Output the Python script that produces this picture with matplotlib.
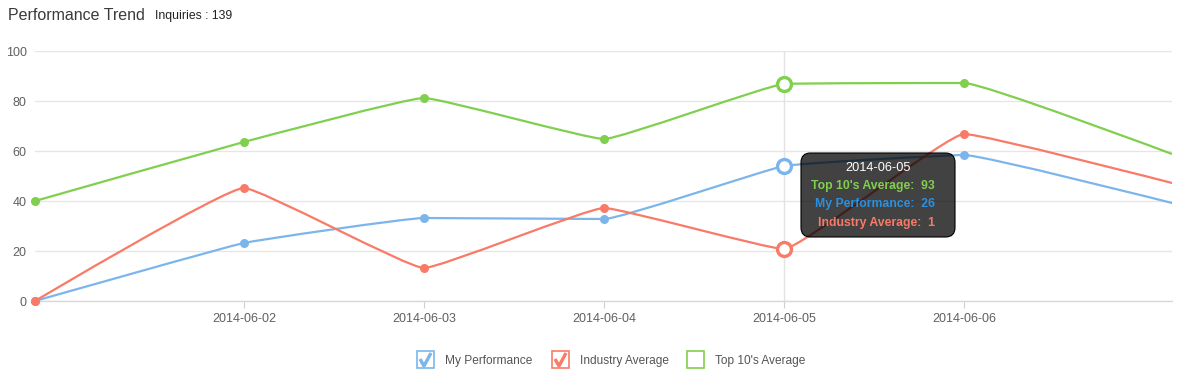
import numpy as np
import matplotlib
matplotlib.use("Agg")
import matplotlib.pyplot as plt
from matplotlib.path import Path
from matplotlib.patches import PathPatch, FancyBboxPatch, Rectangle
from matplotlib.lines import Line2D

plt.rcParams['font.family'] = ['Liberation Sans', 'DejaVu Sans']

# Dane (dni liczone od 2014-06-02)
x_days = [-1.16, 0, 1, 2, 3, 4, 5.155]
tick_pos = [0, 1, 2, 3, 4]
tick_labels = ['2014-06-02', '2014-06-03', '2014-06-04', '2014-06-05', '2014-06-06']
my_perf = [0, 23.2, 33.2, 32.8, 54, 58.4, 39.2]
industry = [0, 45.2, 13.2, 37.2, 20.8, 66.8, 47.2]
top10 = [40, 63.6, 81.2, 64.8, 86.8, 87.2, 58.8]
series_names = ['My Performance', 'Industry Average', "Top 10's Average"]
tooltip_date = '2014-06-05'
tooltip_vals = [("Top 10's Average", 93), ('My Performance', 26), ('Industry Average', 1)]
hover_idx = 4

BLUE = '#7cb5ec'
RED = '#f97a66'
GREEN = '#80cf4e'

W, H = 1184, 391


def fx(p):
    return p / W


def fy(p):
    return 1 - p / H


def spline_path(xs, ys, smoothing=10.0):
    # krzywa w stylu Highcharts "spline", ale z krotkimi punktami kontrolnymi
    n = len(xs)
    denom = smoothing + 1
    lc = [None] * n
    rc = [None] * n
    for i in range(n):
        x, y = xs[i], ys[i]
        if 0 < i < n - 1:
            lx, ly = xs[i - 1], ys[i - 1]
            nx, ny = xs[i + 1], ys[i + 1]
            lcx = (smoothing * x + lx) / denom
            lcy = (smoothing * y + ly) / denom
            rcx = (smoothing * x + nx) / denom
            rcy = (smoothing * y + ny) / denom
            corr = ((rcy - lcy) * (rcx - x)) / (rcx - lcx) + y - rcy
            lcy += corr
            rcy += corr
            if lcy > ly and lcy > y:
                lcy = max(ly, y)
                rcy = 2 * y - lcy
            elif lcy < ly and lcy < y:
                lcy = min(ly, y)
                rcy = 2 * y - lcy
            if rcy > ny and rcy > y:
                rcy = max(ny, y)
                lcy = 2 * y - rcy
            elif rcy < ny and rcy < y:
                rcy = min(ny, y)
                lcy = 2 * y - rcy
            lc[i] = (lcx, lcy)
            rc[i] = (rcx, rcy)
        else:
            lc[i] = (x, y)
            rc[i] = (x, y)
    verts = [(xs[0], ys[0])]
    codes = [Path.MOVETO]
    for i in range(1, n):
        verts += [rc[i - 1], lc[i], (xs[i], ys[i])]
        codes += [Path.CURVE4] * 3
    return Path(verts, codes)


fig = plt.figure(figsize=(W / 100, H / 100), dpi=100)
ax = fig.add_axes([fx(35), fy(301), fx(1172) - fx(35), fy(51) - fy(301)])

ax.set_xlim(x_days[0], x_days[-1])
ax.set_ylim(0, 100)

for spine in ['top', 'right', 'left']:
    ax.spines[spine].set_visible(False)
ax.spines['bottom'].set_color('#d8d8d8')
ax.spines['bottom'].set_linewidth(1)

ax.set_yticks([0, 20, 40, 60, 80, 100])
ax.yaxis.grid(True, color='#e6e6e6', linewidth=1)
ax.set_axisbelow(True)
ax.tick_params(axis='y', length=0, pad=6, labelsize=9, labelcolor='#606060')
ax.set_xticks(tick_pos)
ax.set_xticklabels(tick_labels)
ax.tick_params(axis='x', length=5, color='#d0d0d0', pad=4, labelsize=9, labelcolor='#606060')

# linia kursora
ax.axvline(x_days[hover_idx], color='#e2e2e2', linewidth=1, zorder=1)

for vals, col in [(my_perf, BLUE), (industry, RED), (top10, GREEN)]:
    ax.add_patch(PathPatch(spline_path(x_days, vals), facecolor='none', edgecolor=col,
                           linewidth=1.6, zorder=3))
    ax.plot(x_days[:-1], vals[:-1], 'o', color=col, markersize=6.5, markeredgewidth=0,
            zorder=4, clip_on=False)
    ax.plot([x_days[hover_idx]], [vals[hover_idx]], 'o', markerfacecolor='white',
            markeredgecolor=col, markersize=10, markeredgewidth=2.4, zorder=5, clip_on=False)

# tytul
fig.text(fx(8), fy(16), 'Performance Trend', fontsize=11.5, color='#3a3a3a', va='center')
fig.text(fx(155), fy(16), 'Inquiries : 139', fontsize=8.8, color='#222222', va='center')

# tooltip
tip = FancyBboxPatch((fx(801), fy(237)), fx(955) - fx(801), fy(153) - fy(237),
                     boxstyle='round,pad=0,rounding_size=0.008', transform=fig.transFigure,
                     facecolor=(0, 0, 0, 0.74), edgecolor='black', linewidth=0.8,
                     mutation_aspect=W / H, zorder=10)
fig.patches.append(tip)
fig.text(fx(878), fy(168), tooltip_date, color='white', fontsize=9.2, ha='center', va='center',
         zorder=11)
tip_colors = [GREEN, '#2b90e0', RED]
for k, ((name, v), col) in enumerate(zip(tooltip_vals, tip_colors)):
    fig.text(fx(935), fy(186 + k * 18.5), f'{name}:  {v}', color=col, fontsize=8.8,
             fontweight='bold', ha='right', va='center', zorder=11)

# legenda
legend_x = [417, 552, 687]
legend_cols = [BLUE, RED, GREEN]
checked = [True, True, False]
for name, lx, col, chk in zip(series_names, legend_x, legend_cols, checked):
    fig.patches.append(Rectangle((fx(lx), fy(368)), fx(17), 17 / H, transform=fig.transFigure,
                                 facecolor='white', edgecolor=col, linewidth=1.2))
    if chk:
        fig.lines.append(Line2D([fx(lx + 3), fx(lx + 7), fx(lx + 14)],
                                [fy(359), fy(366), fy(353)], transform=fig.transFigure,
                                color=col, linewidth=2.4, solid_capstyle='butt'))
    fig.text(fx(lx + 28), fy(361), name, fontsize=8.6, color='#555555', va='center')

fig.savefig('out.png', dpi=100)
